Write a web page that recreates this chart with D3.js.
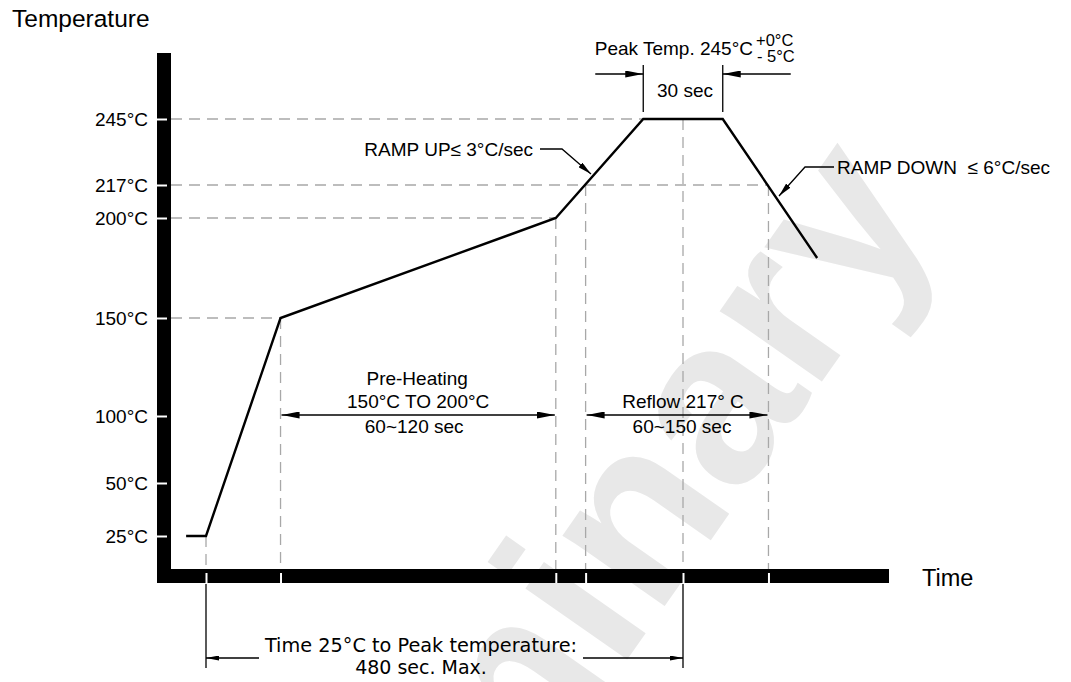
<!DOCTYPE html>
<html><head><meta charset="utf-8">
<script src="https://cdn.jsdelivr.net/npm/d3@7"></script>
<style>
html,body{margin:0;padding:0;background:#fff;}
svg{display:block;}
text{font-family:"Liberation Sans",Arial,Helvetica,sans-serif;fill:#000;}
</style></head><body>
<svg id="chart" width="1071" height="682"></svg>
<script>
// ---- data ----
const yTicks = [25, 50, 100, 150, 200, 217, 245];
const yTickLabels = ["25°C", "50°C", "100°C", "150°C", "200°C", "217°C", "245°C"];
const profileTime = [-20, 0, 75, 352, 440, 520, 615];
const profileTemp = [25, 25, 150, 200, 245, 245, 180];
const guideTime = [0, 75, 352, 382, 480, 566];
const guideTemp = [25, 150, 200, 217, 245, 217];
const hGuideTemp = [245, 217, 200, 150];
const hGuideEndTime = [440, 566, 352, 75];
const peakWindow = [440, 520];
const preheatWindow = [75, 352];
const reflowWindow = [382, 566];
const totalWindow = [0, 480];

// ---- layout ----
const W = 1071, H = 682;
const yTickPos = [536, 483, 416, 318, 218, 185, 119]; // schematic (non-linear) vertical spacing
const x = d3.scaleLinear().domain([0, 480]).range([206, 683]);
const y = d3.scaleLinear().domain(yTicks).range(yTickPos);

const svg = d3.select("#chart");

// markers
const defs = svg.append("defs");
function marker(id, len, half) {
  defs.append("marker").attr("id", id)
    .attr("markerUnits", "userSpaceOnUse")
    .attr("viewBox", `0 ${-half} ${len} ${2 * half}`)
    .attr("refX", len).attr("refY", 0)
    .attr("markerWidth", len).attr("markerHeight", 2 * half)
    .attr("orient", "auto-start-reverse")
    .append("path").attr("d", `M0,${-half}L${len},0L0,${half}Z`).attr("fill", "#000");
}
marker("arBig", 18, 3.5);
marker("arMid", 14, 3);
marker("arSmall", 13, 2.5);

// watermark
svg.append("text")
  .attr("transform", "translate(940,213) rotate(-55)")
  .attr("text-anchor", "end")
  .style("font-size", "235px").style("font-weight", "bold")
  .style("fill", "#e8e8e8")
  .text("Preliminary");

// dashed guides
const guideStyle = s => s.attr("stroke", "#a8a8a8").attr("stroke-width", 1.3).attr("stroke-dasharray", "11,7").attr("fill", "none");
svg.append("g").selectAll("line").data(hGuideTemp).join("line")
  .attr("x1", 171).attr("x2", (d, i) => x(hGuideEndTime[i]))
  .attr("y1", d => y(d)).attr("y2", d => y(d))
  .call(guideStyle);
svg.append("g").selectAll("line").data(guideTime).join("line")
  .attr("x1", d => x(d)).attr("x2", d => x(d))
  .attr("y1", (d, i) => y(guideTemp[i])).attr("y2", 569)
  .call(guideStyle);

// axes bars
svg.append("rect").attr("x", 157).attr("y", 53).attr("width", 14).attr("height", 530).attr("fill", "#000");
svg.append("rect").attr("x", 157).attr("y", 569).attr("width", 732).attr("height", 14).attr("fill", "#000");

// y axis ticks (white) + labels
const yAxis = svg.append("g").attr("transform", "translate(167,0)")
  .call(d3.axisLeft(y).tickValues(yTicks).tickSize(10).tickPadding(9)
    .tickFormat((d, i) => yTickLabels[i]));
yAxis.select(".domain").remove();
yAxis.selectAll(".tick line").attr("stroke", "#fff").attr("stroke-width", 2);
yAxis.selectAll(".tick text").style("font-size", "19px").style("font-family", "'Liberation Sans',Arial,sans-serif").attr("fill", "#000");

// x axis ticks (white)
const xAxis = svg.append("g").attr("transform", "translate(0,573)")
  .call(d3.axisBottom(x).tickValues(guideTime).tickSize(10).tickFormat(""));
xAxis.select(".domain").remove();
xAxis.selectAll(".tick line").attr("stroke", "#fff").attr("stroke-width", 2);

// profile
const pts = profileTime.map((t, i) => [t, profileTemp[i]]);
svg.append("path").datum(pts)
  .attr("d", d3.line().x(d => x(d[0])).y(d => y(d[1])))
  .attr("fill", "none").attr("stroke", "#000").attr("stroke-width", 2.4).attr("stroke-linejoin", "miter");

// axis titles
svg.append("text").attr("x", 12).attr("y", 27).style("font-size", "24.5px").text("Temperature");
svg.append("text").attr("x", 922).attr("y", 586).style("font-size", "23.5px").text("Time");

const ln = (x1, y1, x2, y2, w) => svg.append("line").attr("x1", x1).attr("y1", y1).attr("x2", x2).attr("y2", y2)
  .attr("stroke", "#000").attr("stroke-width", w || 1.3);

// peak annotation
peakWindow.forEach(t => ln(x(t), 65, x(t), 112));
ln(x(peakWindow[0]) - 48, 74, x(peakWindow[0]), 74, 1.5).attr("marker-end", "url(#arBig)");
ln(x(peakWindow[1]) + 68, 74, x(peakWindow[1]), 74, 1.5).attr("marker-end", "url(#arBig)");
const peakMid = (x(peakWindow[0]) + x(peakWindow[1])) / 2;
svg.append("text").attr("x", peakMid + 2).attr("y", 97).attr("text-anchor", "middle").style("font-size", "19px").text("30 sec");
svg.append("text").attr("x", 753).attr("y", 55).attr("text-anchor", "end").style("font-size", "19px").text("Peak Temp. 245°C");
svg.append("text").attr("x", 756).attr("y", 46).style("font-size", "16.5px").text("+0°C");
svg.append("text").attr("x", 757).attr("y", 62).style("font-size", "16.5px").text("- 5°C");

// ramp up / down
svg.append("text").attr("x", 533).attr("y", 156).attr("text-anchor", "end").style("font-size", "19px").text("RAMP UP≤ 3°C/sec");
svg.append("path").attr("d", "M540,149L562,149L591,174").attr("fill", "none").attr("stroke", "#000").attr("stroke-width", 1.3).attr("marker-end", "url(#arMid)");
svg.append("text").attr("x", 837).attr("y", 174).style("font-size", "19px").style("white-space", "pre").attr("xml:space", "preserve").text("RAMP DOWN  ≤ 6°C/sec");
svg.append("path").attr("d", "M834,167L805,167L779,196").attr("fill", "none").attr("stroke", "#000").attr("stroke-width", 1.3).attr("marker-end", "url(#arMid)");

// pre-heating
const phMid = (x(preheatWindow[0]) + x(preheatWindow[1])) / 2;
svg.append("text").attr("x", phMid - 1).attr("y", 385).attr("text-anchor", "middle").style("font-size", "19px").text("Pre-Heating");
svg.append("text").attr("x", phMid).attr("y", 408).attr("text-anchor", "middle").style("font-size", "19px").text("150°C TO 200°C");
svg.append("text").attr("x", phMid - 4).attr("y", 433).attr("text-anchor", "middle").style("font-size", "19px").text("60~120 sec");
ln(x(preheatWindow[0]) + 1, 415, x(preheatWindow[1]) - 1, 415, 1.6)
  .attr("marker-start", "url(#arBig)").attr("marker-end", "url(#arBig)");

// reflow
const rfMid = x(480);
svg.append("text").attr("x", rfMid).attr("y", 408).attr("text-anchor", "middle").style("font-size", "19px").text("Reflow 217° C");
svg.append("text").attr("x", rfMid - 1).attr("y", 433).attr("text-anchor", "middle").style("font-size", "19px").text("60~150 sec");
ln(x(reflowWindow[0]) + 1, 415, x(reflowWindow[1]) - 1, 415, 1.6)
  .attr("marker-start", "url(#arBig)").attr("marker-end", "url(#arBig)");

// total time annotation
totalWindow.forEach(t => ln(x(t), 584, x(t), 668));
ln(259, 658, x(totalWindow[0]), 658, 1.3).attr("marker-end", "url(#arSmall)");
ln(583, 658, x(totalWindow[1]), 658, 1.3).attr("marker-end", "url(#arSmall)");
const totMid = 421;
svg.append("text").attr("x", totMid).attr("y", 652).attr("text-anchor", "middle")
  .style("font-family", "'DejaVu Sans',Verdana,sans-serif").style("font-size", "19.3px").text("Time 25°C to Peak temperature:");
svg.append("text").attr("x", totMid).attr("y", 674).attr("text-anchor", "middle")
  .style("font-family", "'DejaVu Sans',Verdana,sans-serif").style("font-size", "19px").text("480 sec. Max.");
</script>
</body></html>
